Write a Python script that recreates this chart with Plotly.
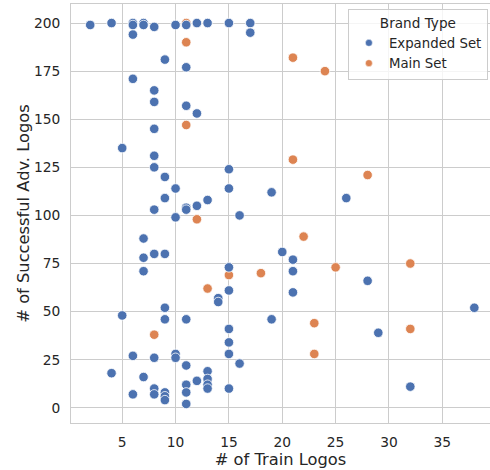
import plotly.graph_objects as go

# Expanded Set (blue)
exp_x = [2, 4, 4, 5, 5,
         6, 6, 6, 6, 6, 6,
         7, 7, 7, 7, 7, 7,
         8, 8, 8, 8, 8, 8, 8, 8, 8, 8, 8,
         9, 9, 9, 9, 9, 9, 9, 9, 9,
         10, 10, 10, 10, 10,
         11, 11, 11, 11, 11, 11, 11, 11, 11, 11,
         12, 12, 12, 12,
         13, 13, 13, 13, 13, 13,
         14, 14,
         15, 15, 15, 15, 15, 15, 15, 15, 15,
         16, 16, 17, 17, 19, 19, 20, 21, 21, 21, 26, 28, 29, 32, 38]
exp_y = [199, 200, 18, 135, 48,
         200, 199, 194, 171, 27, 7,
         200, 199, 88, 78, 71, 16,
         198, 165, 159, 145, 131, 125, 103, 80, 26, 10, 7,
         181, 120, 109, 80, 52, 46, 8, 6, 4,
         199, 114, 99, 28, 26,
         199, 177, 157, 104, 103, 46, 22, 12, 8, 2,
         200, 153, 105, 14,
         200, 108, 19, 15, 12, 10,
         57, 55,
         200, 124, 114, 73, 61, 41, 34, 28, 10,
         100, 23, 200, 195, 112, 46, 81, 77, 71, 60, 109, 66, 39, 11, 52]

# Main Set (orange)
main_x = [8, 11, 11, 11, 12, 13, 15, 18, 21, 21, 22, 23, 23, 24, 25, 28, 32, 32]
main_y = [38, 200, 190, 147, 98, 62, 69, 70, 182, 129, 89, 44, 28, 175, 73, 121, 75, 41]

series_names = ["Expanded Set", "Main Set"]
colors = ["#4C72B0", "#DD8452"]

x_ticks = [5, 10, 15, 20, 25, 30, 35]
y_ticks = [0, 25, 50, 75, 100, 125, 150, 175, 200]


def sort_desc(xs, ys):
    pts = sorted(zip(xs, ys), key=lambda p: -p[1])
    return [p[0] for p in pts], [p[1] for p in pts]


fig = go.Figure()
mx, my = sort_desc(main_x, main_y)
ex, ey = sort_desc(exp_x, exp_y)
fig.add_trace(go.Scatter(x=mx, y=my, mode="markers", showlegend=False,
                         marker=dict(color=colors[1], size=9.5, line=dict(color="white", width=0.8))))
fig.add_trace(go.Scatter(x=ex, y=ey, mode="markers", showlegend=False,
                         marker=dict(color=colors[0], size=9.5, line=dict(color="white", width=0.8))))
# legend entries
for name, c in zip(series_names, colors):
    fig.add_trace(go.Scatter(x=[None], y=[None], mode="markers", name=name,
                             marker=dict(color=c, size=7, line=dict(color="white", width=0.5))))

font_color = "#262626"
fig.update_layout(
    width=490, height=470,
    margin=dict(l=71, r=0, t=4, b=47),
    plot_bgcolor="white", paper_bgcolor="white",
    font=dict(family="DejaVu Sans", color=font_color, size=13.8),
    showlegend=True,
    legend=dict(
        title=dict(text="Brand Type", side="top center", font=dict(size=13.6)),
        font=dict(size=13.3),
        x=0.995, xanchor="right", y=0.988, yanchor="top",
        bgcolor="rgba(255,255,255,0.8)", bordercolor="#cccccc", borderwidth=1,
        traceorder="normal",
    ),
)
fig.update_xaxes(
    range=[0.2, 39.47], tickvals=x_ticks, ticks="", showgrid=True, gridcolor="#cccccc", gridwidth=1,
    showline=True, linecolor="#cccccc", linewidth=1, mirror=True, zeroline=False,
    title=dict(text="# of Train Logos", font=dict(size=16.3), standoff=5),
    tickfont=dict(size=13.8), ticklabelstandoff=6,
)
fig.update_yaxes(
    range=[-7.9, 209.9], tickvals=y_ticks, ticks="", showgrid=True, gridcolor="#cccccc", gridwidth=1,
    showline=True, linecolor="#cccccc", linewidth=1, mirror=False, zeroline=False,
    title=dict(text="# of Successful Adv. Logos", font=dict(size=16.3), standoff=0),
    tickfont=dict(size=13.8), ticklabelstandoff=7,
)
fig.write_html("out.html", config={"displayModeBar": False},
               post_script="document.body.style.margin='0px';")
